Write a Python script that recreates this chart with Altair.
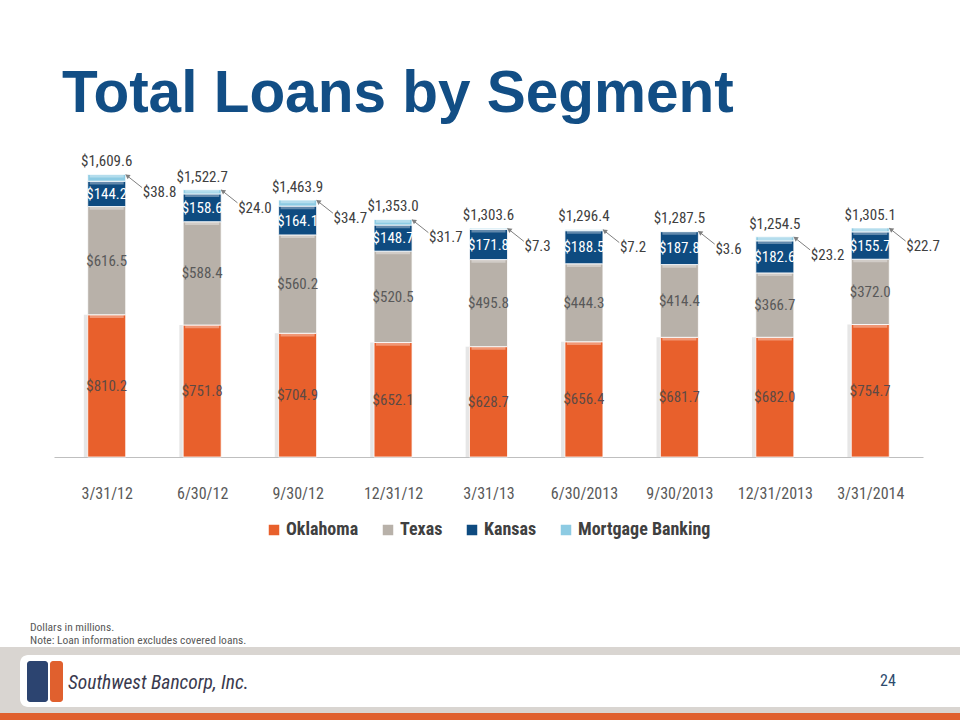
import altair as alt
import pandas as pd

dates = ["3/31/12", "6/30/12", "9/30/12", "12/31/12", "3/31/13",
         "6/30/2013", "9/30/2013", "12/31/2013", "3/31/2014"]
oklahoma = [810.2, 751.8, 704.9, 652.1, 628.7, 656.4, 681.7, 682.0, 754.7]
texas = [616.5, 588.4, 560.2, 520.5, 495.8, 444.3, 414.4, 366.7, 372.0]
kansas = [144.2, 158.6, 164.1, 148.7, 171.8, 188.5, 187.8, 182.6, 155.7]
mortgage = [38.8, 24.0, 34.7, 31.7, 7.3, 7.2, 3.6, 23.2, 22.7]
totals = [1609.6, 1522.7, 1463.9, 1353.0, 1303.6, 1296.4, 1287.5, 1254.5, 1305.1]
segments = ["Oklahoma", "Texas", "Kansas", "Mortgage Banking"]
colors = ["#E8602C", "#B8B1A9", "#0E4B80", "#8DCBE3"]
label_colors = ["#5E4A44", "#595959", "#FFFFFF", "#404040"]

NARROW = "Liberation Sans Narrow, Roboto Condensed, Lato, sans-serif"

rows = []
for i in range(len(dates)):
    start = 0.0
    for s, vals in enumerate([oklahoma, texas, kansas, mortgage]):
        v = vals[i]
        rows.append({
            "idx": i, "date": dates[i], "segment": segments[s], "ord": s,
            "start": start, "end": start + v, "mid": start + v / 2,
            "label": f"${v:,.1f}", "lcol": label_colors[s],
            "total": totals[i],
        })
        start += v
df = pd.DataFrame(rows)
tot_df = pd.DataFrame({"idx": list(range(len(dates))), "total": totals,
                       "label": [f"${t:,.1f}" for t in totals]})

label_expr = "[" + ",".join(f"'{d}'" for d in dates) + "][datum.value]"

xscale = alt.Scale(domain=[-0.5, len(dates) - 0.5], nice=False, zero=False)
yscale = alt.Scale(domain=[0, 1800], nice=False)

x_enc = alt.X("idx:Q", scale=xscale,
              axis=alt.Axis(values=list(range(len(dates))), labelExpr=label_expr,
                            title=None, ticks=False, grid=False,
                            domainColor="#BFBFBF", domainWidth=1,
                            labelFont=NARROW, labelFontSize=16,
                            labelColor="#595959", labelPadding=28))

# soft shadow left of the bars
shadow = alt.Chart(df).transform_filter("datum.ord == 0").transform_calculate(
    sx="datum.idx - 0.03").mark_bar(size=40, color="#9A9A9A", opacity=0.25).encode(
    x=alt.X("sx:Q", scale=xscale),
    y=alt.Y("start:Q", scale=yscale, axis=None),
    y2="end:Q",
)

bars = alt.Chart(df).mark_bar(size=38, stroke="#FFFFFF", strokeWidth=0.8).encode(
    x=x_enc,
    y=alt.Y("start:Q", scale=yscale, axis=None),
    y2="end:Q",
    color=alt.Color("segment:N", scale=alt.Scale(domain=segments, range=colors),
                    legend=alt.Legend(title=None, orient="none", direction="horizontal",
                                      legendX=211, legendY=380,
                                      symbolType="square", symbolSize=110,
                                      symbolStrokeWidth=0,
                                      labelFont=NARROW, labelFontSize=18,
                                      labelFontWeight="bold", labelColor="#404040",
                                      columnPadding=20, labelOffset=3)),
    order=alt.Order("ord:Q"),
)

# bevel highlight on the top of every segment
bevel = alt.Chart(df).transform_calculate(
    hb="max(datum.start, datum.end - 18)").mark_bar(
    size=34, color="#FFFFFF", opacity=0.35).encode(
    x=alt.X("idx:Q", scale=xscale),
    y=alt.Y("end:Q", scale=yscale),
    y2="hb:Q",
)

seg_labels = alt.Chart(df).transform_filter("datum.ord < 3").mark_text(
    font=NARROW, fontSize=15, baseline="middle", align="center").encode(
    x=alt.X("idx:Q", scale=xscale),
    y=alt.Y("mid:Q", scale=yscale),
    text="label:N",
    color=alt.Color("lcol:N", scale=None),
)

mort_labels = alt.Chart(df).transform_filter("datum.ord == 3").mark_text(
    font=NARROW, fontSize=15, baseline="middle", align="left", dx=36, dy=18,
    color="#404040").encode(
    x=alt.X("idx:Q", scale=xscale),
    y=alt.Y("end:Q", scale=yscale),
    text="label:N",
)

leaders = alt.Chart(df).transform_filter("datum.ord == 3").transform_calculate(
    x1="datum.idx + 0.2", x2="datum.idx + 0.37",
    y1="datum.end - 2", y2="datum.end - 75").mark_rule(
    color="#7F7F7F", strokeWidth=1).encode(
    x=alt.X("x1:Q", scale=xscale), x2="x2:Q",
    y=alt.Y("y1:Q", scale=yscale), y2="y2:Q",
)

arrows = alt.Chart(df).transform_filter("datum.ord == 3").transform_calculate(
    ax="datum.idx + 0.215", ay="datum.end - 8").mark_point(
    shape="triangle-up", angle=305, size=28, filled=True, color="#7F7F7F",
    opacity=1).encode(
    x=alt.X("ax:Q", scale=xscale),
    y=alt.Y("ay:Q", scale=yscale),
)

tot_labels = alt.Chart(tot_df).mark_text(
    font=NARROW, fontSize=15, baseline="bottom", align="center", dy=-5,
    color="#404040").encode(
    x=alt.X("idx:Q", scale=xscale),
    y=alt.Y("total:Q", scale=yscale),
    text="label:N",
)

one = pd.DataFrame({"a": [0]})

def rect(x, x2, y, y2, color, **kw):
    return alt.Chart(one).mark_rect(color=color, **kw).encode(
        x=alt.value(x), x2=alt.value(x2), y=alt.value(y), y2=alt.value(y2))

def txt(s, x, y, **kw):
    return alt.Chart(pd.DataFrame({"t": [s]})).mark_text(**kw).encode(
        x=alt.value(x), y=alt.value(y), text="t:N")

title = txt("Total Loans by Segment", 8, -29, font="Liberation Sans", fontSize=58.5,
            fontWeight="bold", color="#124E85", align="left", baseline="alphabetic")
note1 = txt("Dollars in millions.", -24, 487, font=NARROW, fontSize=11.5,
            color="#595959", align="left", baseline="middle")
note2 = txt("Note: Loan information excludes covered loans.", -24, 500, font=NARROW,
            fontSize=11.5, color="#595959", align="left", baseline="middle")

band = rect(-54, 906, 506, 572, "#D9D5D1")
orange = rect(-54, 906, 572, 579, "#E0602E")
card = rect(-34, 920, 514, 566, "#FFFFFF", cornerRadius=8)
logo_navy = rect(-27, -6, 520, 561, "#2C4470", cornerRadius=3)
logo_orange = rect(-4, 9, 520, 561, "#E0602E", cornerRadius=3)
logo_text = txt("Southwest Bancorp, Inc.", 14, 542, font=NARROW,
                fontSize=19.5, fontStyle="italic", color="#3A3A4E",
                align="left", baseline="middle")
page_no = txt("24", 834, 540, font=NARROW, fontSize=16, color="#2D4B6E",
              align="center", baseline="middle")

chart = alt.layer(
    band, orange, card, logo_navy, logo_orange, logo_text, page_no,
    note1, note2, title,
    shadow, bars, bevel, seg_labels, leaders, arrows, mort_labels, tot_labels,
).properties(
    width=869, height=316,
    autosize=alt.AutoSizeParams(type="none"),
    padding={"left": 54, "top": 141, "right": 37, "bottom": 263},
    background="white",
).configure_view(stroke=None)

chart.save("out.html", embed_options={"renderer": "svg", "actions": False})
